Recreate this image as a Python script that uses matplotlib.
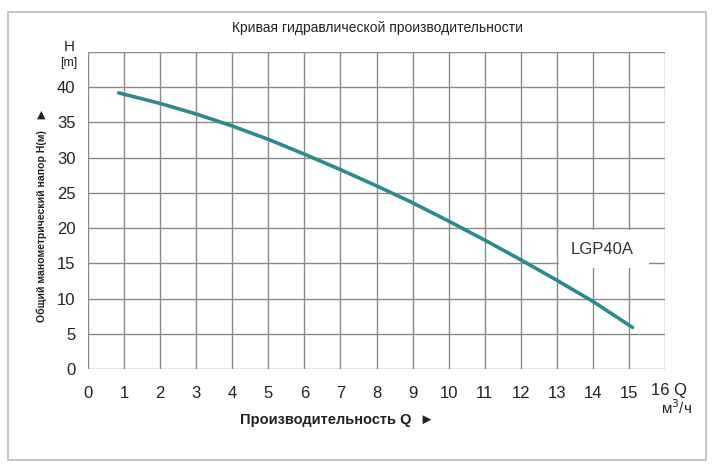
import matplotlib.pyplot as plt
from matplotlib.patches import Rectangle

plt.rcParams['font.family'] = ['Liberation Sans', 'DejaVu Sans']

# Performance curve LGP40A
flow_q = [0.85, 2, 3, 4, 5, 6, 7, 8, 9, 10, 11, 12, 13, 14, 15.1]
head_h = [39.2, 37.7, 36.2, 34.5, 32.6, 30.5, 28.3, 26.0, 23.6, 21.0, 18.3, 15.5, 12.6, 9.6, 5.9]
x_ticks = list(range(0, 17))
y_ticks = list(range(0, 45, 5))
model_name = 'LGP40A'

fig = plt.figure(figsize=(7.2, 4.7), dpi=100)
ax = fig.add_axes([88 / 720, 1 - 369 / 470, (665 - 88) / 720, (369 - 52) / 470])

# outer frame around the whole chart
fig.patches.append(Rectangle((8 / 720, 1 - 460 / 470), 698 / 720, 448 / 470,
                             transform=fig.transFigure, fill=False,
                             edgecolor='#bbbbbb', linewidth=1.2))

grid_color = '#8a8a8a'
for x in x_ticks:
    ax.axvline(x, color=grid_color, linewidth=1.0, zorder=1)
for y in y_ticks:
    ax.axhline(y, color=grid_color, linewidth=1.0, zorder=1)
ax.axhline(45, color=grid_color, linewidth=1.0, zorder=1)

ax.plot(flow_q, head_h, color='#2b8a8c', linewidth=2.6, solid_capstyle='round', zorder=3)

ax.set_xlim(0, 16)
ax.set_ylim(0, 45)
for s in ax.spines.values():
    s.set_visible(False)
ax.set_xticks(x_ticks)
ax.set_yticks(y_ticks)
ax.set_xticklabels([str(t) if t != 16 else '' for t in x_ticks])
ax.tick_params(length=0, labelsize=12, labelcolor='#222222')
ax.tick_params(axis='x', pad=12)
ax.tick_params(axis='y', pad=9)

# model label on a white patch over the grid
ax.add_patch(Rectangle((13.05, 14.3), 2.5, 5.5, facecolor='white', edgecolor='none', zorder=2))
ax.text(14.25, 17.0, model_name, ha='center', va='center', fontsize=12, color='#333333', zorder=4)

# axis annotations
fig.text(378 / 720, 1 - 28 / 470, 'Кривая гидравлической производительности',
         ha='center', va='center', fontsize=10, color='#222222')
fig.text(69 / 720, 1 - 47 / 470, 'H', ha='center', va='center', fontsize=11, color='#222222')
fig.text(69 / 720, 1 - 63 / 470, '[m]', ha='center', va='center', fontsize=9, color='#222222')
fig.text(669 / 720, 1 - 391 / 470, '16 Q', ha='center', va='center', fontsize=12, color='#222222')
fig.text(676 / 720, 1 - 408 / 470, 'м$^3$/ч', ha='center', va='center', fontsize=11, color='#222222')
fig.text(337 / 720, 1 - 420 / 470, 'Производительность Q  ►', ha='center', va='center',
         fontsize=10.5, fontweight='bold', color='#222222')
fig.text(42 / 720, 1 - 226 / 470, 'Общий манометрический напор H(м)', ha='center', va='center',
         rotation=90, fontsize=7.6, fontweight='bold', color='#222222')
fig.text(41 / 720, 1 - 115 / 470, '▲', ha='center', va='center', fontsize=8, color='#222222',
         family=['DejaVu Sans'])

fig.savefig('out.png', dpi=100)
